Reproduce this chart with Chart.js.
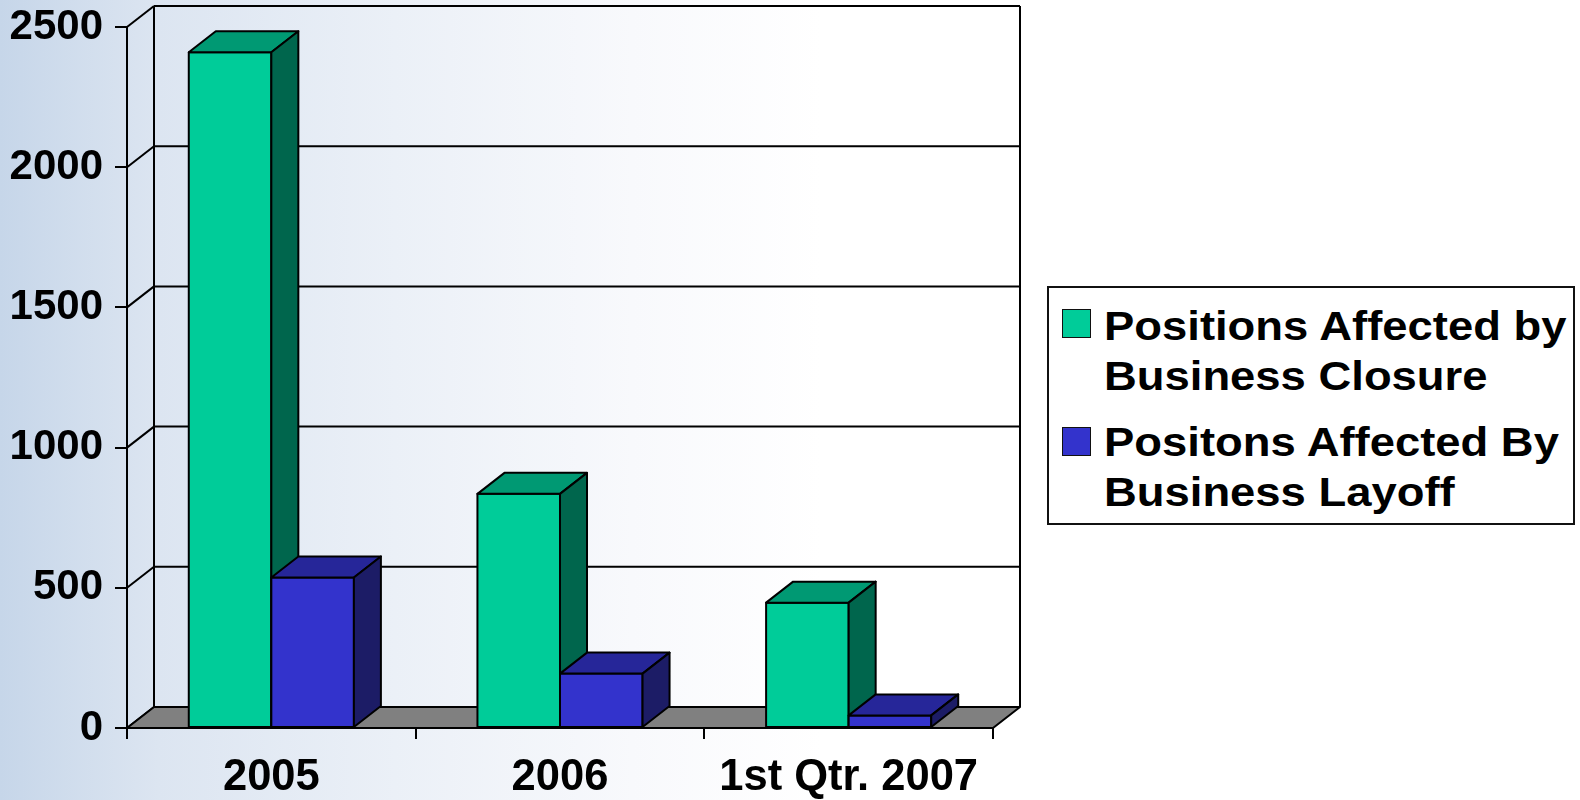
<!DOCTYPE html>
<html>
<head>
<meta charset="utf-8">
<script src="https://cdn.jsdelivr.net/npm/chart.js@4/dist/chart.umd.min.js"></script>
<style>
    body { margin: 0; }
    #contenedor {
        position: relative;
        width: 1580px;
        height: 800px;
        overflow: hidden;
        background: linear-gradient(to right, #c6d6e9 0%, #dce5f1 10%, #ebf0f7 25%, #f8f9fc 40%, #ffffff 52%);
        font-family: 'Liberation Sans', Arial, sans-serif;
    }
    #grafico { position: absolute; left: 0; top: 0; }
    #leyenda {
        position: absolute;
        left: 1047px;
        top: 286px;
        width: 528px;
        height: 239px;
        box-sizing: border-box;
        border: 2px solid #111;
        background: #fff;
    }
    .cuadro {
        position: absolute;
        left: 1062px;
        width: 29px;
        height: 29px;
        box-sizing: border-box;
        border: 1.5px solid #111;
    }
    .texto {
        position: absolute;
        left: 1104px;
        white-space: nowrap;
        font-weight: bold;
        font-size: 40px;
        line-height: 50px;
        transform: scaleX(1.135);
        transform-origin: left top;
        color: #000;
    }
</style>
</head>
<body>
<div id="contenedor">
    <canvas id="grafico" width="1580" height="800"></canvas>
    <div id="leyenda"></div>
</div>
<script>
// Datos del grafico
const categorias = ['2005', '2006', '1st Qtr. 2007'];
const cierres = [2410, 835, 447];
const despidos = [537, 194, 45];
const etiquetasSeries = [
    ['Positions Affected by', 'Business Closure'],
    ['Positons Affected By', 'Business Layoff']
];
const valoresEje = [0, 500, 1000, 1500, 2000, 2500];

// Colores de cada cara de las barras (frente, tapa y lado)
const coloresFrente = ['#00cc99', '#3333cc'];
const coloresTapa = ['#009973', '#262699'];
const coloresLado = ['#00664d', '#1c1c66'];

// Profundidad del efecto 3D
const fondoX = 27;
const fondoY = -21;

const fuenteEjeY = { family: "'Liberation Sans', Arial, sans-serif", size: 42, weight: 'bold', lineHeight: 1 };
const fuenteEjeX = { family: "'Liberation Sans', Arial, sans-serif", size: 43.5, weight: 'bold', lineHeight: 1 };

function poligono(ctx, puntos, relleno) {
    ctx.beginPath();
    ctx.moveTo(puntos[0][0], puntos[0][1]);
    for (let i = 1; i < puntos.length; i++) {
        ctx.lineTo(puntos[i][0], puntos[i][1]);
    }
    ctx.closePath();
    if (relleno) {
        ctx.fillStyle = relleno;
        ctx.fill();
    }
    ctx.stroke();
}

function linea(ctx, x1, y1, x2, y2) {
    ctx.beginPath();
    ctx.moveTo(x1, y1);
    ctx.lineTo(x2, y2);
    ctx.stroke();
}

// Plugin que dibuja paredes, piso y caras laterales de las barras
const efecto3d = {
    id: 'efecto3d',
    beforeDatasetsDraw(chart) {
        const ctx = chart.ctx;
        const x = chart.scales.x;
        const y = chart.scales.y;
        const base = y.getPixelForValue(0);
        const arriba = y.getPixelForValue(valoresEje[valoresEje.length - 1]);

        ctx.save();
        ctx.strokeStyle = '#000';
        ctx.lineWidth = 2;
        ctx.lineJoin = 'round';

        // Lineas de la pared del fondo y diagonales de la pared izquierda
        valoresEje.forEach(v => {
            const py = y.getPixelForValue(v);
            linea(ctx, x.left + fondoX, py + fondoY, x.right + fondoX, py + fondoY);
            linea(ctx, x.left, py, x.left + fondoX, py + fondoY);
        });
        linea(ctx, x.left + fondoX, arriba + fondoY, x.left + fondoX, base + fondoY);
        linea(ctx, x.right + fondoX, arriba + fondoY, x.right + fondoX, base + fondoY);

        // Piso gris
        poligono(ctx, [
            [x.left, base],
            [x.right, base],
            [x.right + fondoX, base + fondoY],
            [x.left + fondoX, base + fondoY]
        ], '#808080');
        ctx.restore();
    },
    afterDatasetsDraw(chart) {
        const ctx = chart.ctx;
        ctx.save();
        ctx.strokeStyle = '#000';
        ctx.lineWidth = 2;
        ctx.lineJoin = 'round';

        // Primero la serie verde y luego la azul, para que la azul tape el lado verde
        categorias.forEach((c, indice) => {
            chart.data.datasets.forEach((ds, d) => {
                const barra = chart.getDatasetMeta(d).data[indice];
                const p = barra.getProps(['x', 'y', 'base', 'width'], true);
                const izq = p.x - p.width / 2;
                const der = p.x + p.width / 2;

                barra.draw(ctx);
                ctx.strokeRect(izq, p.y, p.width, p.base - p.y);

                // Tapa
                poligono(ctx, [
                    [izq, p.y],
                    [der, p.y],
                    [der + fondoX, p.y + fondoY],
                    [izq + fondoX, p.y + fondoY]
                ], coloresTapa[d]);

                // Lado
                poligono(ctx, [
                    [der, p.y],
                    [der + fondoX, p.y + fondoY],
                    [der + fondoX, p.base + fondoY],
                    [der, p.base]
                ], coloresLado[d]);
            });
        });
        ctx.restore();
    }
};

function generarGrafico() {
    const ctx = document.getElementById('grafico').getContext('2d');

    const grafico = new Chart(ctx, {
        type: 'bar',
        data: {
            labels: categorias,
            datasets: [{
                label: etiquetasSeries[0].join(' '),
                data: cierres,
                backgroundColor: coloresFrente[0],
                borderWidth: 0
            }, {
                label: etiquetasSeries[1].join(' '),
                data: despidos,
                backgroundColor: coloresFrente[1],
                borderWidth: 0
            }]
        },
        options: {
            responsive: false,
            devicePixelRatio: 1,
            animation: false,
            datasets: {
                bar: {
                    categoryPercentage: 0.572,
                    barPercentage: 1.0
                }
            },
            layout: {
                padding: { left: 0, right: 587, top: 27, bottom: 0 }
            },
            plugins: {
                legend: { display: false },
                tooltip: { enabled: false }
            },
            scales: {
                x: {
                    afterFit: (escala) => {
                        escala.height = 72;
                        escala.paddingLeft = 0;
                        escala.paddingRight = 0;
                    },
                    grid: {
                        display: true,
                        drawOnChartArea: false,
                        drawTicks: true,
                        tickLength: 11,
                        color: '#000',
                        lineWidth: 2
                    },
                    border: { display: true, color: '#000', width: 2 },
                    ticks: {
                        color: '#000',
                        font: fuenteEjeX,
                        padding: 17,
                        maxRotation: 0
                    }
                },
                y: {
                    min: 0,
                    max: 2500,
                    afterFit: (escala) => {
                        escala.width = 127;
                        escala.paddingTop = 0;
                        escala.paddingBottom = 0;
                    },
                    afterBuildTicks: (escala) => {
                        escala.ticks = valoresEje.map(v => ({ value: v }));
                    },
                    grid: {
                        display: true,
                        drawOnChartArea: false,
                        drawTicks: true,
                        tickLength: 12,
                        color: '#000',
                        lineWidth: 2
                    },
                    border: { display: true, color: '#000', width: 2 },
                    ticks: {
                        color: '#000',
                        font: fuenteEjeY,
                        padding: 12,
                        callback: (valor) => String(valor)
                    }
                }
            }
        },
        plugins: [efecto3d]
    });

    return grafico;
}

// Leyenda en HTML con los mismos colores y nombres de las series
function generarLeyenda() {
    const contenedor = document.getElementById('contenedor');
    const topesCuadro = [309, 427];
    const topesTexto = [301, 417];
    etiquetasSeries.forEach((lineas, i) => {
        const cuadro = document.createElement('div');
        cuadro.className = 'cuadro';
        cuadro.style.top = topesCuadro[i] + 'px';
        cuadro.style.background = coloresFrente[i];

        const texto = document.createElement('div');
        texto.className = 'texto';
        texto.style.top = topesTexto[i] + 'px';
        texto.innerHTML = lineas.join('<br>');

        contenedor.appendChild(cuadro);
        contenedor.appendChild(texto);
    });
}

generarGrafico();
generarLeyenda();
</script>
</body>
</html>
